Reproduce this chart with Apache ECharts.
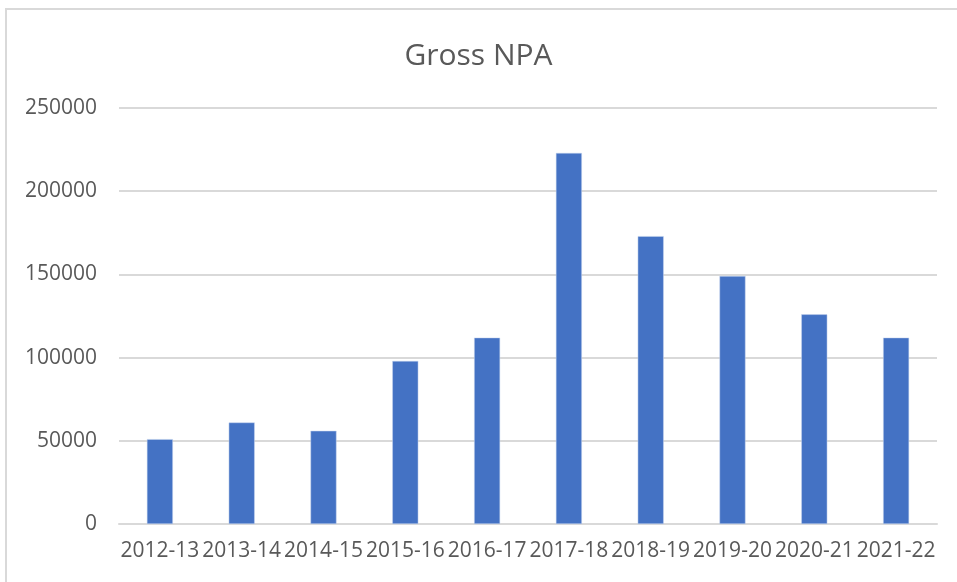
<!DOCTYPE html>
<html>
<head>
<meta charset="utf-8">
<script src="https://cdn.jsdelivr.net/npm/echarts@6/dist/echarts.min.js"></script>
<style>
html,body{margin:0;padding:0;background:#fff;}
#chart{width:957px;height:582px;}
</style>
</head>
<body>
<div id="chart"></div>
<script>
const categories = ['2012-13','2013-14','2014-15','2015-16','2016-17','2017-18','2018-19','2019-20','2020-21','2021-22'];
const grossNPA = [51000, 61000, 56000, 98000, 112000, 223000, 173000, 149000, 126000, 112000];
const yTicks = {min: 0, max: 250000, interval: 50000};

const chart = echarts.init(document.getElementById('chart'), null, {renderer: 'canvas'});
chart.setOption({
  animation: false,
  backgroundColor: '#ffffff',
  title: {
    text: 'Gross NPA',
    left: 'center',
    top: 36,
    textStyle: {fontFamily: 'Open Sans', fontSize: 30, fontWeight: 'normal', color: '#595959'}
  },
  graphic: [{
    type: 'rect',
    shape: {x: 6, y: 9, width: 1200, height: 800},
    style: {fill: 'none', stroke: '#d9d9d9', lineWidth: 2},
    silent: true
  }],
  grid: {left: 119, right: 20, top: 108, bottom: 58},
  xAxis: {
    type: 'category',
    data: categories,
    axisLine: {show: true, lineStyle: {color: '#d9d9d9', width: 2}},
    axisTick: {show: false},
    axisLabel: {
      interval: 0, margin: 17, color: '#595959',
      fontFamily: 'Open Sans', fontSize: 21
    }
  },
  yAxis: {
    type: 'value',
    min: yTicks.min, max: yTicks.max, interval: yTicks.interval,
    axisLine: {show: false},
    axisTick: {show: false},
    splitLine: {lineStyle: {color: '#d9d9d9', width: 2}},
    axisLabel: {
      margin: 22, color: '#595959', fontFamily: 'Open Sans', fontSize: 21,
      formatter: function (v) { return String(v); }
    }
  },
  series: [{
    type: 'bar',
    data: grossNPA,
    barWidth: 26,
    itemStyle: {color: '#4472c4', borderColor: '#c9d6ee', borderWidth: 0.5}
  }]
});
</script>
</body>
</html>
